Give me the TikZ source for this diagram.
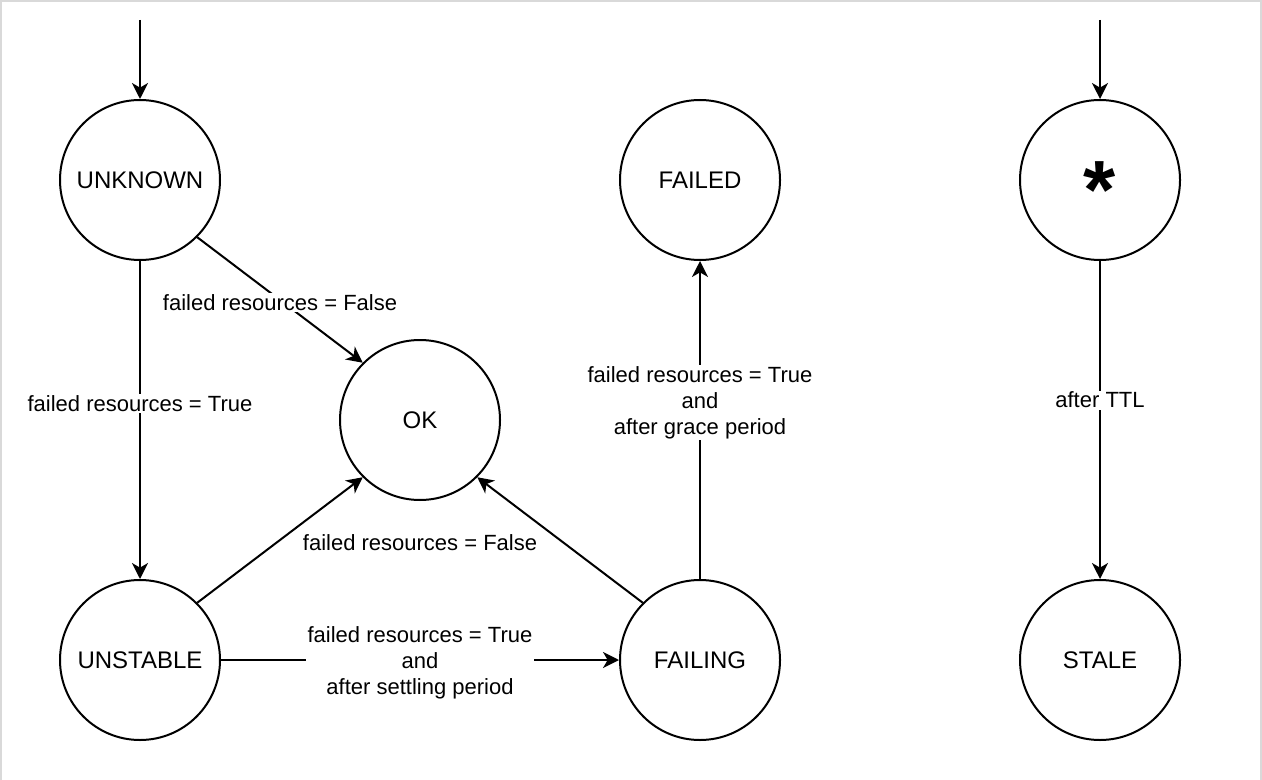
\documentclass[tikz,border=0pt]{standalone}
\usepackage{fontspec}
\setmainfont{Liberation Sans}
\usetikzlibrary{arrows.meta}
\definecolor{framegray}{HTML}{D9D9D9}
\begin{document}
\begin{tikzpicture}[x=0.75pt,y=-0.75pt,
    state/.style={circle,draw,line width=1.5pt,minimum size=120pt,inner sep=0pt,
      font=\fontsize{18}{21}\selectfont},
    edge/.style={line width=1.5pt,-{Stealth[length=12pt,width=12pt,inset=3.5pt]}},
    lbl/.style={fill=white,inner sep=1pt,align=center,yshift=-1.8pt,
      font=\fontsize{16.5}{19.5}\selectfont}]
  \useasboundingbox (0,0) rectangle (1262,780);
  \draw[framegray,line width=1.5pt] (1,1) rectangle (1261,800);
  % states
  \node[state] (unknown) at (140,180) {UNKNOWN};
  \node[state] (ok) at (420,420) {OK};
  \node[state] (failed) at (700,180) {FAILED};
  \node[state] (any) at (1100,180)
    {\fontsize{62}{62}\selectfont\bfseries\smash{\raisebox{-0.465em}{*}}};
  \node[state] (unstable) at (140,660) {UNSTABLE};
  \node[state] (failing) at (700,660) {FAILING};
  \node[state] (stale) at (1100,660) {STALE};
  \coordinate (start) at (140,20);
  \coordinate (anystart) at (1100,20);
  % transitions
  \draw[edge] (start) -- (unknown);
  \draw[edge] (anystart) -- (any);
  \draw[edge] (unknown.south east) -- node[lbl]{failed resources = False} (ok.north west);
  \draw[edge] (unknown) -- node[lbl,pos=0.44]{failed resources = True} (unstable);
  \draw[edge] (unstable.north east) -- (ok.south west);
  \draw[edge] (failing.north west) -- (ok.south east);
  \node[lbl] (backok) at (420,540) {failed resources = False};
  \draw[edge] (unstable) -- node[lbl]{failed resources = True\\and\\after settling period} (failing);
  \draw[edge] (failing) -- node[lbl,pos=0.5625]{failed resources = True\\and\\after grace period} (failed);
  \draw[edge] (any) -- node[lbl,pos=0.43]{after TTL} (stale);
\end{tikzpicture}
\end{document}
